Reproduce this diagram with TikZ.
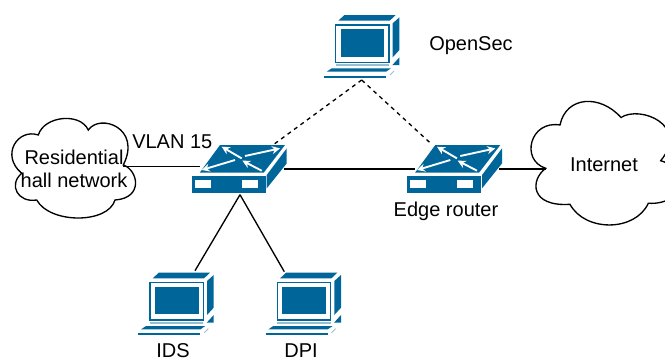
\documentclass[tikz,border=0pt]{standalone}
\usepackage{fontspec}
\setmainfont{Liberation Sans}
\usetikzlibrary{arrows.meta}
\definecolor{iconblue}{RGB}{0,102,153}
\definecolor{iconpale}{RGB}{150,190,212}
\tikzset {
  link/.style = {
    draw = black,
    line width = 1pt
  },
  % link to the controller
  ctrl link/.style = {
    link,
    dashed
  },
  cloud line/.style = {
    draw = black,
    line width = 1pt,
    fill = white
  },
  tag/.style = {
    font = \fontsize{15}{17.25}\selectfont,
    align = center,
    inner sep = 0
  },
  % white arrows on the top of a router
  flow/.style = {
    draw = white,
    line width = 1.4pt,
    -{Stealth[length=6pt,width=6pt]}
  }
}
\tikzset {
  router/.pic = {
    \fill[iconblue] (8,-3) -- (28.3,-30.7) -- (93.3,-30.7) -- (72,-3) -- cycle;
    \fill[iconblue] (0,0) rectangle (74,17);
    \fill[iconblue] (75,-0.7) -- (95,-27.3) -- (95,-12.3) -- (75,12.7) -- cycle;
    \fill[white] (3.3,4.3) rectangle (19.3,12);
    \fill[white] (50,4.3) rectangle (66,12);
    \draw[flow] (50,-17.3) -- (30,-29);
    \draw[flow] (53.3,-19.7) -- (88.3,-27.3);
    \draw[flow] (43.3,-15.7) -- (10,-5.7);
    \draw[flow] (70,-5) -- (50.7,-15);
    \coordinate (-west) at (8,-9);
    \coordinate (-east) at (92,-6.7);
    \coordinate (-south) at (48.3,19);
    \coordinate (-north) at (83,-32);
    \coordinate (-northw) at (23,-33);
  },
  computer/.pic = {
    \fill[iconblue] (2.7,-4.3) -- (8.7,-10) -- (60,-10) -- (54,-4.3) -- cycle;
    \draw[iconblue, line width = .9pt] (0,0) rectangle (53.3,37.3);
    \fill[iconblue] (5,4) rectangle (48.7,31.7);
    \fill[iconblue] (57,-1.7) -- (63.7,-7.7) -- (63.7,25) -- (57,32.3) -- cycle;
    \fill[iconblue] (56.7,40) -- (63.7,32.3) -- (63.7,40) -- cycle;
    \fill[iconpale] (0,39) rectangle (53.3,41);
    \fill[iconblue] (-9,46.7) -- (-4,43.3) -- (55.3,43.3) -- (50.3,46.7) -- cycle;
    \fill[iconblue] (-11.7,50.5) rectangle (50.3,52.7);
    \draw[iconpale, line width = .6pt] (54.3,50) -- (58.3,46);
    \coordinate (-northl) at (7,-11);
    \coordinate (-northr) at (45,-12);
    \coordinate (-south) at (26,55);
  }
}

\begin{document}
\begin{tikzpicture}[x=.75pt, y=-.75pt]
    \useasboundingbox (0,0) rectangle (665,358);

    % clouds
    \path[cloud line] (38.3,135)
    .. controls (44,116) and (80,112) .. (88.3,130)
    .. controls (100,113) and (142,128) .. (123.3,165)
    .. controls (138,170) and (144,198) .. (115,200)
    .. controls (108,224) and (50,224) .. (36.7,200)
    .. controls (18,203) and (8,185) .. (21.7,173.3)
    .. controls (0,155) and (18,128) .. (38.3,135) -- cycle;
    \path[cloud line] (560,125)
    .. controls (566,96) and (600,94) .. (621,117.5)
    .. controls (640,105) and (690,125) .. (660.7,160.7)
    .. controls (680,165) and (690,205) .. (648.3,203.3)
    .. controls (635,232) and (585,232) .. (570,204.3)
    .. controls (530,207) and (530,180) .. (545.7,168.3)
    .. controls (520,160) and (530,120) .. (560,125) -- cycle;

    \node[tag] (hall) at (74,168.5) {Residential\\hall network};
    \node[tag] (internet) at (604,165) {Internet};
    \coordinate (hall-port) at (123.3,166.7);
    \coordinate (internet-port) at (545.7,169);

    \pic (core) at (191.7,175.7) {router};
    \pic (edge) at (407,175.7) {router};
    \pic (opensec) at (335.7,25) {computer};
    \pic (ids) at (150,282.7) {computer};
    \pic (dpi) at (277.3,282.7) {computer};

    \node[tag, anchor=west] (opensec-tag) at (429,46) {OpenSec};
    \node[tag, anchor=base] (edge-tag) at (446,216) {Edge router};
    \node[tag, anchor=base west] (vlan) at (132,148) {VLAN 15};
    \node[tag, anchor=base] (ids-tag) at (173,357.5) {IDS};
    \node[tag, anchor=base] (dpi-tag) at (301,357.5) {DPI};

    \draw[link] (hall-port) -- (core-west);
    \draw[link] (core-east) -- (edge-west |- core-east);
    \draw[link] (edge-east) -- (internet-port);
    \draw[link] (core-south) -- (ids-northr);
    \draw[link] (core-south) -- (dpi-northl);
    \draw[ctrl link] (core-north) -- (opensec-south);
    \draw[ctrl link] (opensec-south) -- (edge-northw);
  \end{tikzpicture}
\end{document}
